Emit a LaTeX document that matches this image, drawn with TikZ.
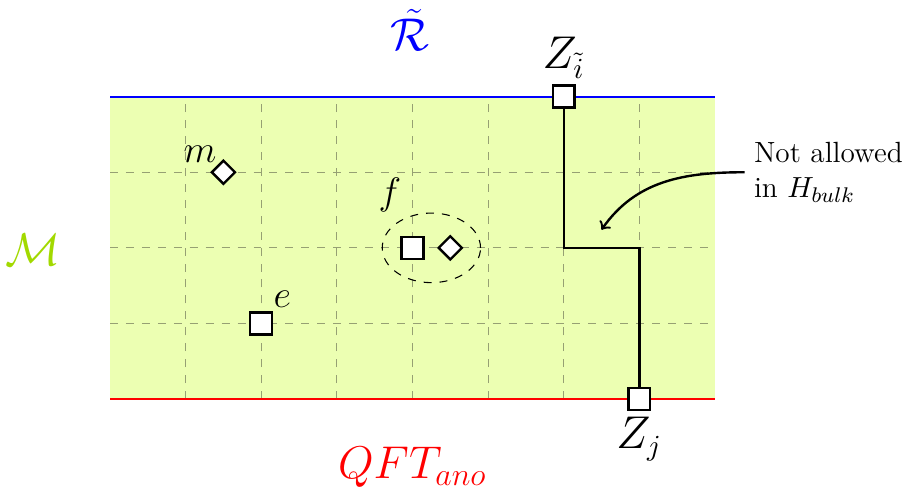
\documentclass[tikz,border=0pt]{standalone}
\usepackage{amsmath}
\usepackage{xcolor}
\usepackage{tikz}
\usetikzlibrary{shapes.geometric, arrows, positioning}
\definecolor{gridcol}{RGB}{150,160,115}

\begin{document}
\begin{tikzpicture}[ charge/.style={draw, line width=0.9pt, fill=white, rectangle, minimum size=0.29cm, inner sep=0pt},
			flux/.style={draw, line width=0.9pt, fill=white, diamond, minimum size=0.32cm, inner sep=0pt},
			label/.style={font=\fontsize{14.4}{16}\selectfont},
			big/.style={font=\fontsize{17}{19}\selectfont}
			]
			\useasboundingbox (-1.455,-1.349) rectangle (10.54,5.278);
			\fill[lime!30] (0,0) rectangle (8,4);
			\foreach \x in {1,...,7} \draw[dashed, gridcol] (\x,0) -- (\x,4);
			\foreach \y in {1,2,3} \draw[dashed, gridcol] (0,\y) -- (8,\y);
			\draw[thick, blue] (0,4) -- (8,4);
			\draw[thick, red] (0,0) -- (8,0);
			
			\node [big, blue](R) at (3.97,4.88) {$\tilde{\mathcal{R}}$};
			\node [big, red](Q) at (4,-0.9) {$QFT_{ano}$};
			\node [big, lime!85!black](M) at (-1.02,1.97) {$\mathcal{M}$};
			
			\node [flux](m) at (1.5,3) {};
			\node [label](lm) [above left=-0.08cm and -0.12cm of m] {$m$};
			\node [charge](e) at (2,1) {};
			\node [label](le) [above right=-0.08cm and -0.12cm of e] {$e$};
			
			\node [charge](f1) at (4,2) {};
			\node [flux](f2) at (4.5,2) {};
			\draw[dashed] (4.25,2) ellipse (0.65 and 0.46);
			\node [label](lf) at (3.7,2.7) {$f$};
			
			\node [charge](zi) at (6,4) {};
			\node [charge](zj) at (7,0) {};
			\node [label, font=\fontsize{16}{18}\selectfont](lzi) [above=-0.05cm of zi] {$Z_{\tilde{i}}$};
			\node [label, font=\fontsize{16}{18}\selectfont](lzj) [below=-0.05cm of zj] {$Z_j$};
			\coordinate (c1) at (6,2);
			\coordinate (c2) at (7,2);
			\draw[line width=0.9pt, black] (zi) -- (c1) -- (c2) -- (zj);
			
			\node [align=left, font=\fontsize{11}{13.5}\selectfont](note) at (9.5,3.0) {Not allowed\\in $H_{bulk}$};
			\coordinate (tip) at (6.5,2.24);
			\draw[line width=0.9pt, black, ->] (note.west) to[out=180, in=55] (tip);
		\end{tikzpicture}
\end{document}
